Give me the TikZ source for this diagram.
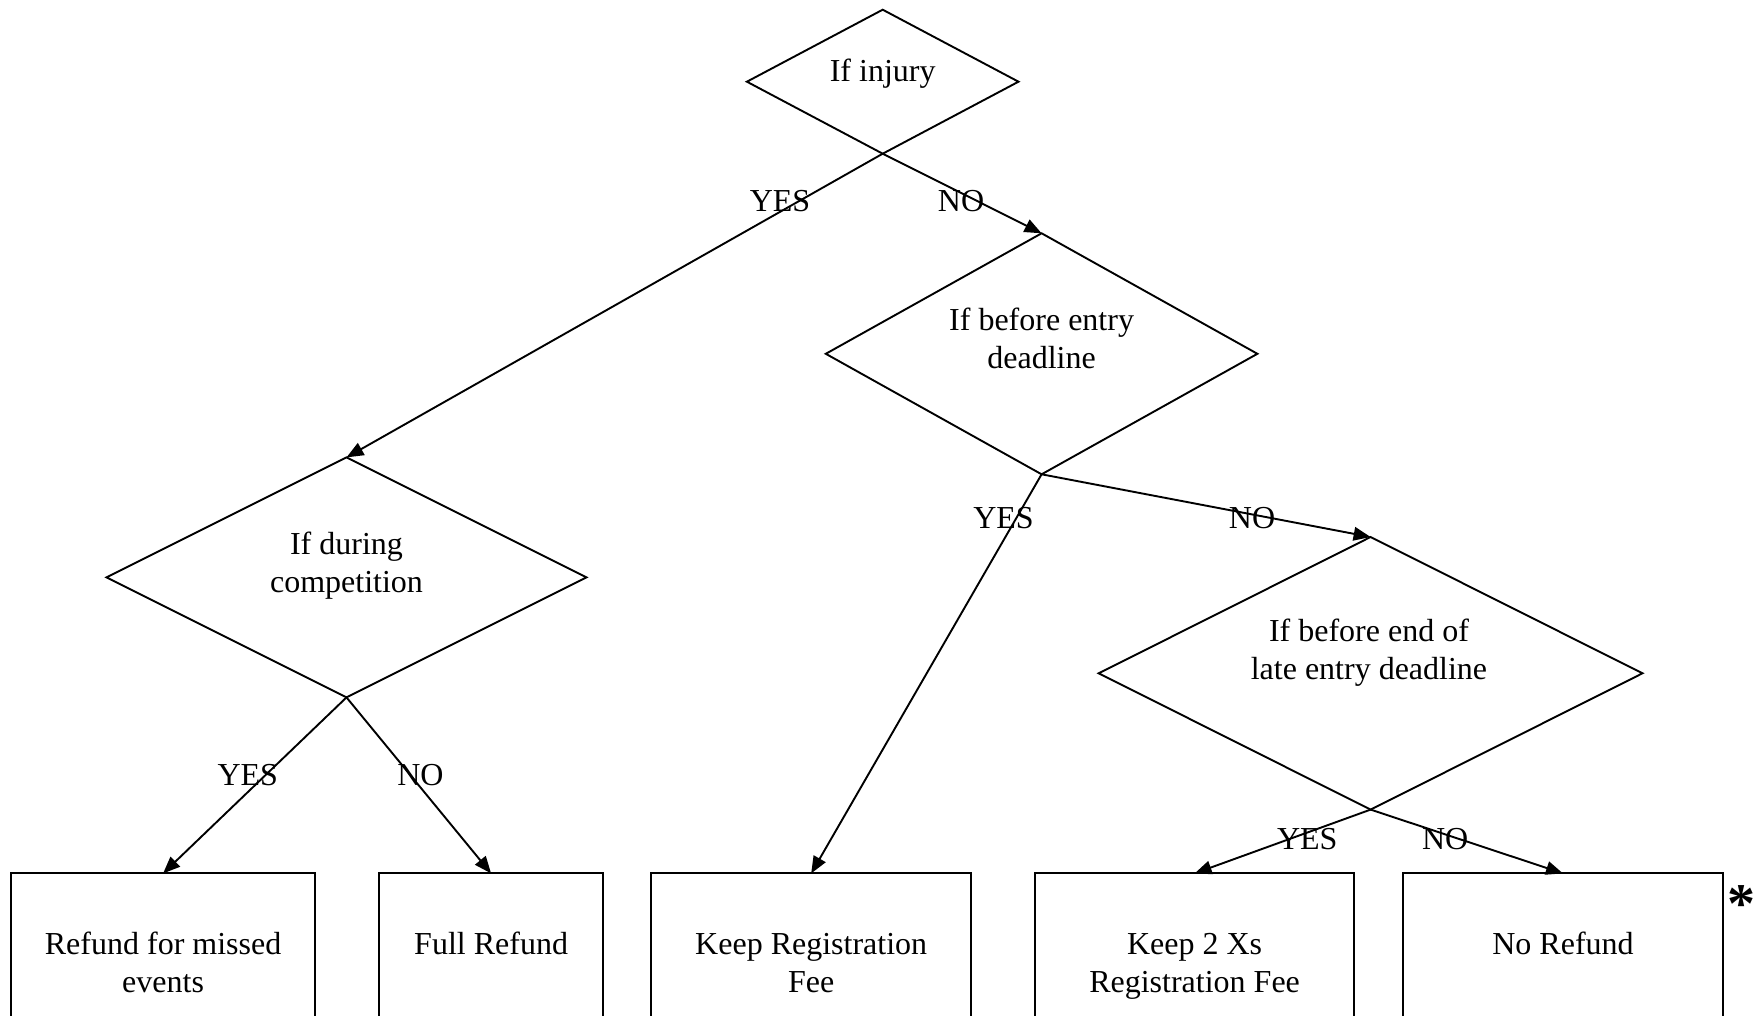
\documentclass[tikz,border=0pt]{standalone}
\usepackage{fontspec}
\setmainfont{Liberation Serif}
\usetikzlibrary{shapes.geometric,arrows.meta}
\begin{document}
\begin{tikzpicture}[x=0.5pt,y=-0.5pt,line width=0.95pt,
  dec/.style={draw,diamond,inner sep=0pt,outer sep=0pt},
  outbox/.style={draw,rectangle,inner sep=0pt,outer sep=0pt,anchor=north west,minimum height=78.3pt},
  txt/.style={font=\fontsize{16}{19}\selectfont,align=center,anchor=base,inner sep=0pt},
  lab/.style={font=\fontsize{16}{19}\selectfont,anchor=base,inner sep=0pt},
  arr/.style={-{Triangle[length=8.5pt,width=6.8pt]}}]
\useasboundingbox[fill=white] (0,0) rectangle (1758,1016);
% decisions
\node[dec,minimum width=135.8pt,minimum height=72pt] (d1) at (882.7,81.7) {};
\node[dec,minimum width=215.8pt,minimum height=120.5pt] (d2) at (1041.6,353.8) {};
\node[dec,minimum width=240pt,minimum height=120pt] (d3) at (346.5,577.4) {};
\node[dec,minimum width=271.9pt,minimum height=136.3pt] (d4) at (1370.6,673.3) {};
\node[txt] (t1) at (882.7,81.7) {If injury};
\node[txt] (t2) at (1041.6,369) {If before entry\\deadline};
\node[txt] (t3) at (346.5,592) {If during\\competition};
\node[txt] (t4) at (1369,679) {If before end of\\late entry deadline};
% outcomes
\node[outbox,minimum width=151.9pt] (b1) at (11.2,873.4) {};
\node[outbox,minimum width=112.1pt] (b2) at (379,873.4) {};
\node[outbox,minimum width=159.8pt] (b3) at (651.4,873.4) {};
\node[outbox,minimum width=159.75pt] (b4) at (1034.9,873.4) {};
\node[outbox,minimum width=160.35pt] (b5) at (1402.6,873.4) {};
\node[txt] (o1) at (163.1,992) {Refund for missed\\events};
\node[txt] (o2) at (491.1,954) {Full Refund};
\node[txt] (o3) at (811.2,992) {Keep Registration\\Fee};
\node[txt] (o4) at (1194.6,992) {Keep 2 Xs\\Registration Fee};
\node[txt] (o5) at (1563,954) {No Refund};
\node[font=\fontsize{28}{30}\selectfont\bfseries,inner sep=0pt] (ast) at (1741.5,904) {*};
% connectors
\draw[arr] (d1.south) -- (d3.north);
\draw[arr] (d1.south) -- (d2.north);
\draw[arr] (d2.south) -- (b3.north);
\draw[arr] (d2.south) -- (d4.north);
\draw[arr] (d3.south) -- (b1.north);
\draw[arr] (d3.south) -- (b2.north);
\draw[arr] (d4.south) -- (b4.north);
\draw[arr] (d4.south) -- (b5.north);
% labels
\node[lab] (l1) at (780,212) {YES};
\node[lab] (l2) at (961,212) {NO};
\node[lab] (l3) at (1003.5,529) {YES};
\node[lab] (l4) at (1252,529) {NO};
\node[lab] (l5) at (247.8,785) {YES};
\node[lab] (l6) at (420.4,785) {NO};
\node[lab] (l7) at (1307.3,849) {YES};
\node[lab] (l8) at (1445.2,849) {NO};
\end{tikzpicture}
\end{document}
